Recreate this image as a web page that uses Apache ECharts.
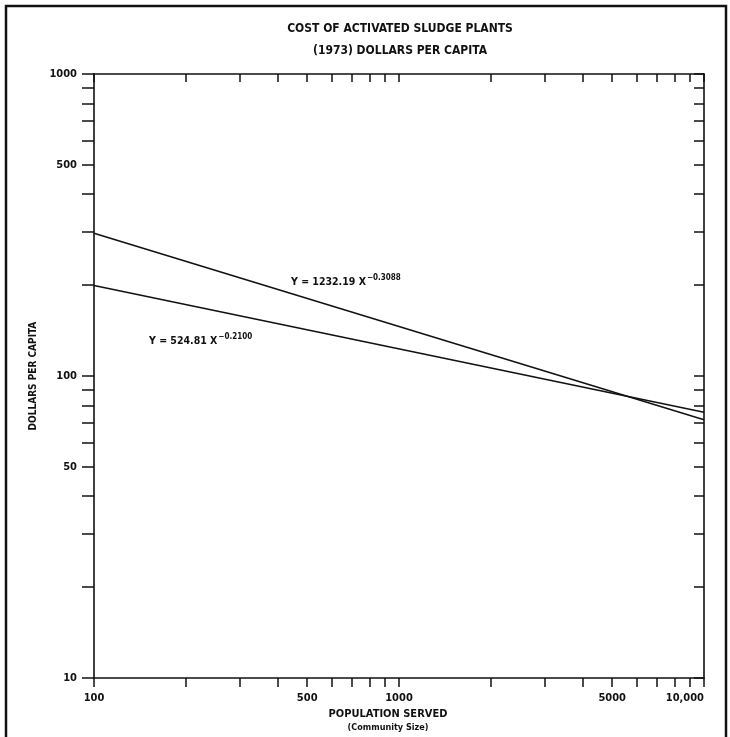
<!DOCTYPE html>
<html>
<head>
<meta charset="utf-8">
<title>Cost of Activated Sludge Plants</title>
<script src="https://cdn.jsdelivr.net/npm/echarts@6/dist/echarts.min.js"></script>
<style>
  html, body { margin: 0; padding: 0; background: #fff; }
  #chart { width: 730px; height: 737px; }
</style>
</head>
<body>
<div id="chart"></div>
<script>
// Community size (population served) at the two ends of each fitted line
const populationEnds = [100, 10000];
// Y = 1232.19 X^-0.3088
const costUpper = [297.2, 71.7];
// Y = 524.81 X^-0.2100
const costLower = [199.4, 75.9];

// Log-cycle tick marks and labelled values
const xTicks = [100, 200, 300, 400, 500, 600, 700, 800, 900,
                1000, 2000, 3000, 4000, 5000, 6000, 7000, 8000, 9000, 10000];
const yTicks = [10, 20, 30, 40, 50, 60, 70, 80, 90,
                100, 200, 300, 400, 500, 600, 700, 800, 900, 1000];
const xLabels = [100, 500, 1000, 5000, 10000];
const yLabels = [10, 50, 100, 500, 1000];

const FONT = "'Liberation Sans Narrow', 'DejaVu Sans Condensed', 'Liberation Sans', sans-serif";
const INK = '#111';

const chart = echarts.init(document.getElementById('chart'), null, { renderer: 'canvas' });

function pairs(xs, ys) { return xs.map((x, i) => [x, ys[i]]); }
function fmt(v) {
  const n = Math.round(v);
  return n >= 10000 ? n.toLocaleString('en-US') : String(n);
}

function logAxis(opts) {
  return Object.assign({
    type: 'log',
    logBase: 10,
    splitLine: { show: false },
    minorTick: { show: false },
    axisLine: { show: true, lineStyle: { color: INK, width: 1.6 } },
    axisTick: { show: true, lineStyle: { color: INK, width: 1.5 } },
    axisLabel: { show: false }
  }, opts);
}

const eqRich = {
  a: { fontFamily: FONT, fontWeight: 'bold', fontSize: 10.5, fill: INK, color: INK },
  s: { fontFamily: FONT, fontWeight: 'bold', fontSize: 8, fill: INK, color: INK,
       padding: [0, 0, 9, 1] }
};

const option = {
  backgroundColor: '#fff',
  animation: false,
  grid: { left: 94, right: 26, top: 74, bottom: 54 },
  xAxis: [
    logAxis({
      min: 100, max: 10000, position: 'bottom',
      axisTick: { show: true, inside: false, length: 9, customValues: xTicks,
                  lineStyle: { color: INK, width: 1.5 } },
      axisLabel: { show: true, customValues: xLabels, formatter: fmt, margin: 15,
                   color: INK, fontFamily: FONT, fontWeight: 'bold', fontSize: 11,
                   alignMaxLabel: 'right' },
      name: '{a|POPULATION SERVED}\n{b|(Community Size)}',
      nameLocation: 'middle',
      nameGap: 27,
      nameTextStyle: {
        padding: [0, 22, 0, 0],
        rich: {
          a: { fontFamily: FONT, fontWeight: 'bold', fontSize: 11, color: INK, lineHeight: 14, align: 'center' },
          b: { fontFamily: FONT, fontWeight: 'bold', fontSize: 9, color: INK, lineHeight: 12, align: 'center' }
        }
      }
    }),
    logAxis({
      min: 100, max: 10000, position: 'top',
      axisTick: { show: true, inside: true, length: 8, customValues: xTicks,
                  lineStyle: { color: INK, width: 1.5 } }
    })
  ],
  yAxis: [
    logAxis({
      min: 10, max: 1000, position: 'left',
      axisTick: { show: true, inside: false, length: 12, customValues: yTicks,
                  lineStyle: { color: INK, width: 1.5 } },
      axisLabel: { show: true, customValues: yLabels, formatter: fmt, margin: 17,
                   color: INK, fontFamily: FONT, fontWeight: 'bold', fontSize: 11 },
      name: 'DOLLARS PER CAPITA',
      nameLocation: 'middle',
      nameRotate: 90,
      nameGap: 50,
      nameTextStyle: { fontFamily: FONT, fontWeight: 'bold', fontSize: 10, color: INK }
    }),
    logAxis({
      min: 10, max: 1000, position: 'right',
      axisTick: { show: true, inside: true, length: 10, customValues: yTicks,
                  lineStyle: { color: INK, width: 1.5 } }
    })
  ],
  series: [
    {
      name: 'Y = 1232.19 X^-0.3088',
      type: 'line',
      data: pairs(populationEnds, costUpper),
      symbol: 'none',
      lineStyle: { color: INK, width: 1.5 }
    },
    {
      name: 'Y = 524.81 X^-0.2100',
      type: 'line',
      data: pairs(populationEnds, costLower),
      symbol: 'none',
      lineStyle: { color: INK, width: 1.5 }
    }
  ],
  graphic: [
    // page frame
    { type: 'rect', shape: { x: 6, y: 6, width: 720, height: 745 },
      style: { fill: null, stroke: INK, lineWidth: 2.5 }, silent: true },
    { type: 'text', x: 400, y: 29,
      style: { text: 'COST OF ACTIVATED SLUDGE PLANTS', fill: INK, fontFamily: FONT,
               fontWeight: 'bold', fontSize: 12, align: 'center', verticalAlign: 'middle' } },
    { type: 'text', x: 400, y: 51,
      style: { text: '(1973) DOLLARS PER CAPITA', fill: INK, fontFamily: FONT,
               fontWeight: 'bold', fontSize: 12, align: 'center', verticalAlign: 'middle' } },
    { type: 'text', x: 291, y: 282,
      style: { text: '{a|Y = 1232.19 X}{s|−0.3088}', verticalAlign: 'middle', rich: eqRich } },
    { type: 'text', x: 149, y: 341,
      style: { text: '{a|Y = 524.81 X}{s|−0.2100}', verticalAlign: 'middle', rich: eqRich } }
  ]
};

chart.setOption(option);
</script>
</body>
</html>
